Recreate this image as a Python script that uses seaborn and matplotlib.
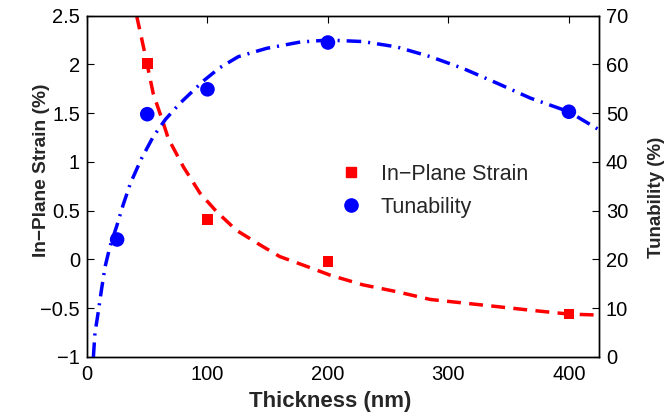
import pandas as pd
import seaborn as sns
import matplotlib
matplotlib.use("Agg")
import matplotlib.pyplot as plt
from matplotlib.lines import Line2D

# Measured points
thickness_strain = [50, 100, 200, 400]
strain = [2.01, 0.41, -0.02, -0.56]
thickness_tun = [25, 50, 100, 200, 400]
tunability = [24.1, 49.8, 54.9, 64.5, 50.3]

# Fit curves
fit_strain_x = [41.2, 48.1, 55, 63.3, 67.5, 80, 93.8, 107.6, 124, 143.6, 160, 180,
                201.7, 229, 257, 285, 323, 368, 400, 425]
fit_strain_y = [2.5, 2.11, 1.70, 1.40, 1.24, 0.95, 0.68, 0.49, 0.30, 0.15, 0.03, -0.06,
                -0.16, -0.26, -0.33, -0.41, -0.46, -0.52, -0.56, -0.57]
fit_tun_x = [5.3, 6.6, 9.4, 12.2, 15, 19, 24.6, 30, 36, 45, 55, 65, 77, 96.5, 110, 125.6,
             149, 177, 200, 229, 257, 285, 312, 340, 368, 400, 425]
fit_tun_y = [0, 4.9, 9.3, 14.1, 18.5, 22.6, 26.8, 31.2, 35.6, 40.6, 45.2, 48.7, 52, 56.6, 59.3,
             61.6, 63.3, 64.6, 65, 64.7, 63.6, 61.6, 59.2, 56.2, 53.1, 50.3, 46.6]

sns.set_style("white")
plt.rcParams["font.family"] = ["Liberation Sans", "DejaVu Sans"]

fig = plt.figure(figsize=(6.67, 4.18), dpi=100)
ax = fig.add_axes([87 / 667, 1 - 357 / 418, 512 / 667, 341.3 / 418])
ax2 = ax.twinx()

red = (1, 0, 0)
blue = (0, 0, 1)

# strain (left axis)
sns.lineplot(x=fit_strain_x, y=fit_strain_y, ax=ax, color=red, linewidth=2.5,
             sort=False, estimator=None)
ax.lines[-1].set_dashes([4, 2.4])
sns.scatterplot(x=thickness_strain, y=strain, ax=ax, color=red, marker="s",
                s=60, edgecolor="none", zorder=5)

# tunability (right axis)
sns.lineplot(x=fit_tun_x, y=fit_tun_y, ax=ax2, color=blue, linewidth=2.5,
             sort=False, estimator=None)
ax2.lines[-1].set_dashes([4.2, 2, 0.6, 2])
sns.scatterplot(x=thickness_tun, y=tunability, ax=ax2, color=blue, marker="o",
                s=110, edgecolor="none", zorder=5)

ax.set_xlim(0, 425)
ax.set_ylim(-1, 2.5)
ax2.set_ylim(0, 70)
ax.set_xticks([0, 100, 200, 300, 400])
ax.set_yticks([-1, -0.5, 0, 0.5, 1, 1.5, 2, 2.5])
ax.set_yticklabels(["\u22121", "\u22120.5", "0", "0.5", "1", "1.5", "2", "2.5"])
ax2.set_yticks(range(0, 71, 10))

for a in (ax, ax2):
    for s in a.spines.values():
        s.set_color("black")
        s.set_linewidth(1.0)
ax.tick_params(axis="x", direction="in", top=True, length=5, width=0.8,
               labelsize=14.5, pad=6, colors="black")
ax.tick_params(axis="y", direction="in", left=True, right=False, length=5,
               width=0.8, labelsize=14.5, pad=5, colors="black")
ax2.tick_params(axis="y", direction="in", right=True, length=5, width=0.8,
                labelsize=14.5, pad=5, colors="black")

ax.set_xlabel("Thickness (nm)", fontsize=16, fontweight="bold")
ax.set_ylabel("In\u2212Plane Strain (%)", fontsize=13.8, fontweight="bold")
ax2.set_ylabel("Tunability (%)", fontsize=13.5, fontweight="bold")
ax.xaxis.set_label_coords(0.475, -0.1)
ax.yaxis.set_label_coords(-0.072, 0.548)
ax2.yaxis.set_label_coords(1.096, 0.469)

handles = [
    Line2D([], [], ls="none", marker="s", color=red, markersize=7.5),
    Line2D([], [], ls="none", marker="o", color=blue, markersize=9.5),
]
ax.legend(handles, ["In\u2212Plane Strain", "Tunability"], frameon=False,
          loc="upper left", bbox_to_anchor=(0.464, 0.597), fontsize=15.5,
          handletextpad=0.6, handlelength=1.5, labelspacing=0.55, borderpad=0)

fig.savefig("out.png", dpi=100)
